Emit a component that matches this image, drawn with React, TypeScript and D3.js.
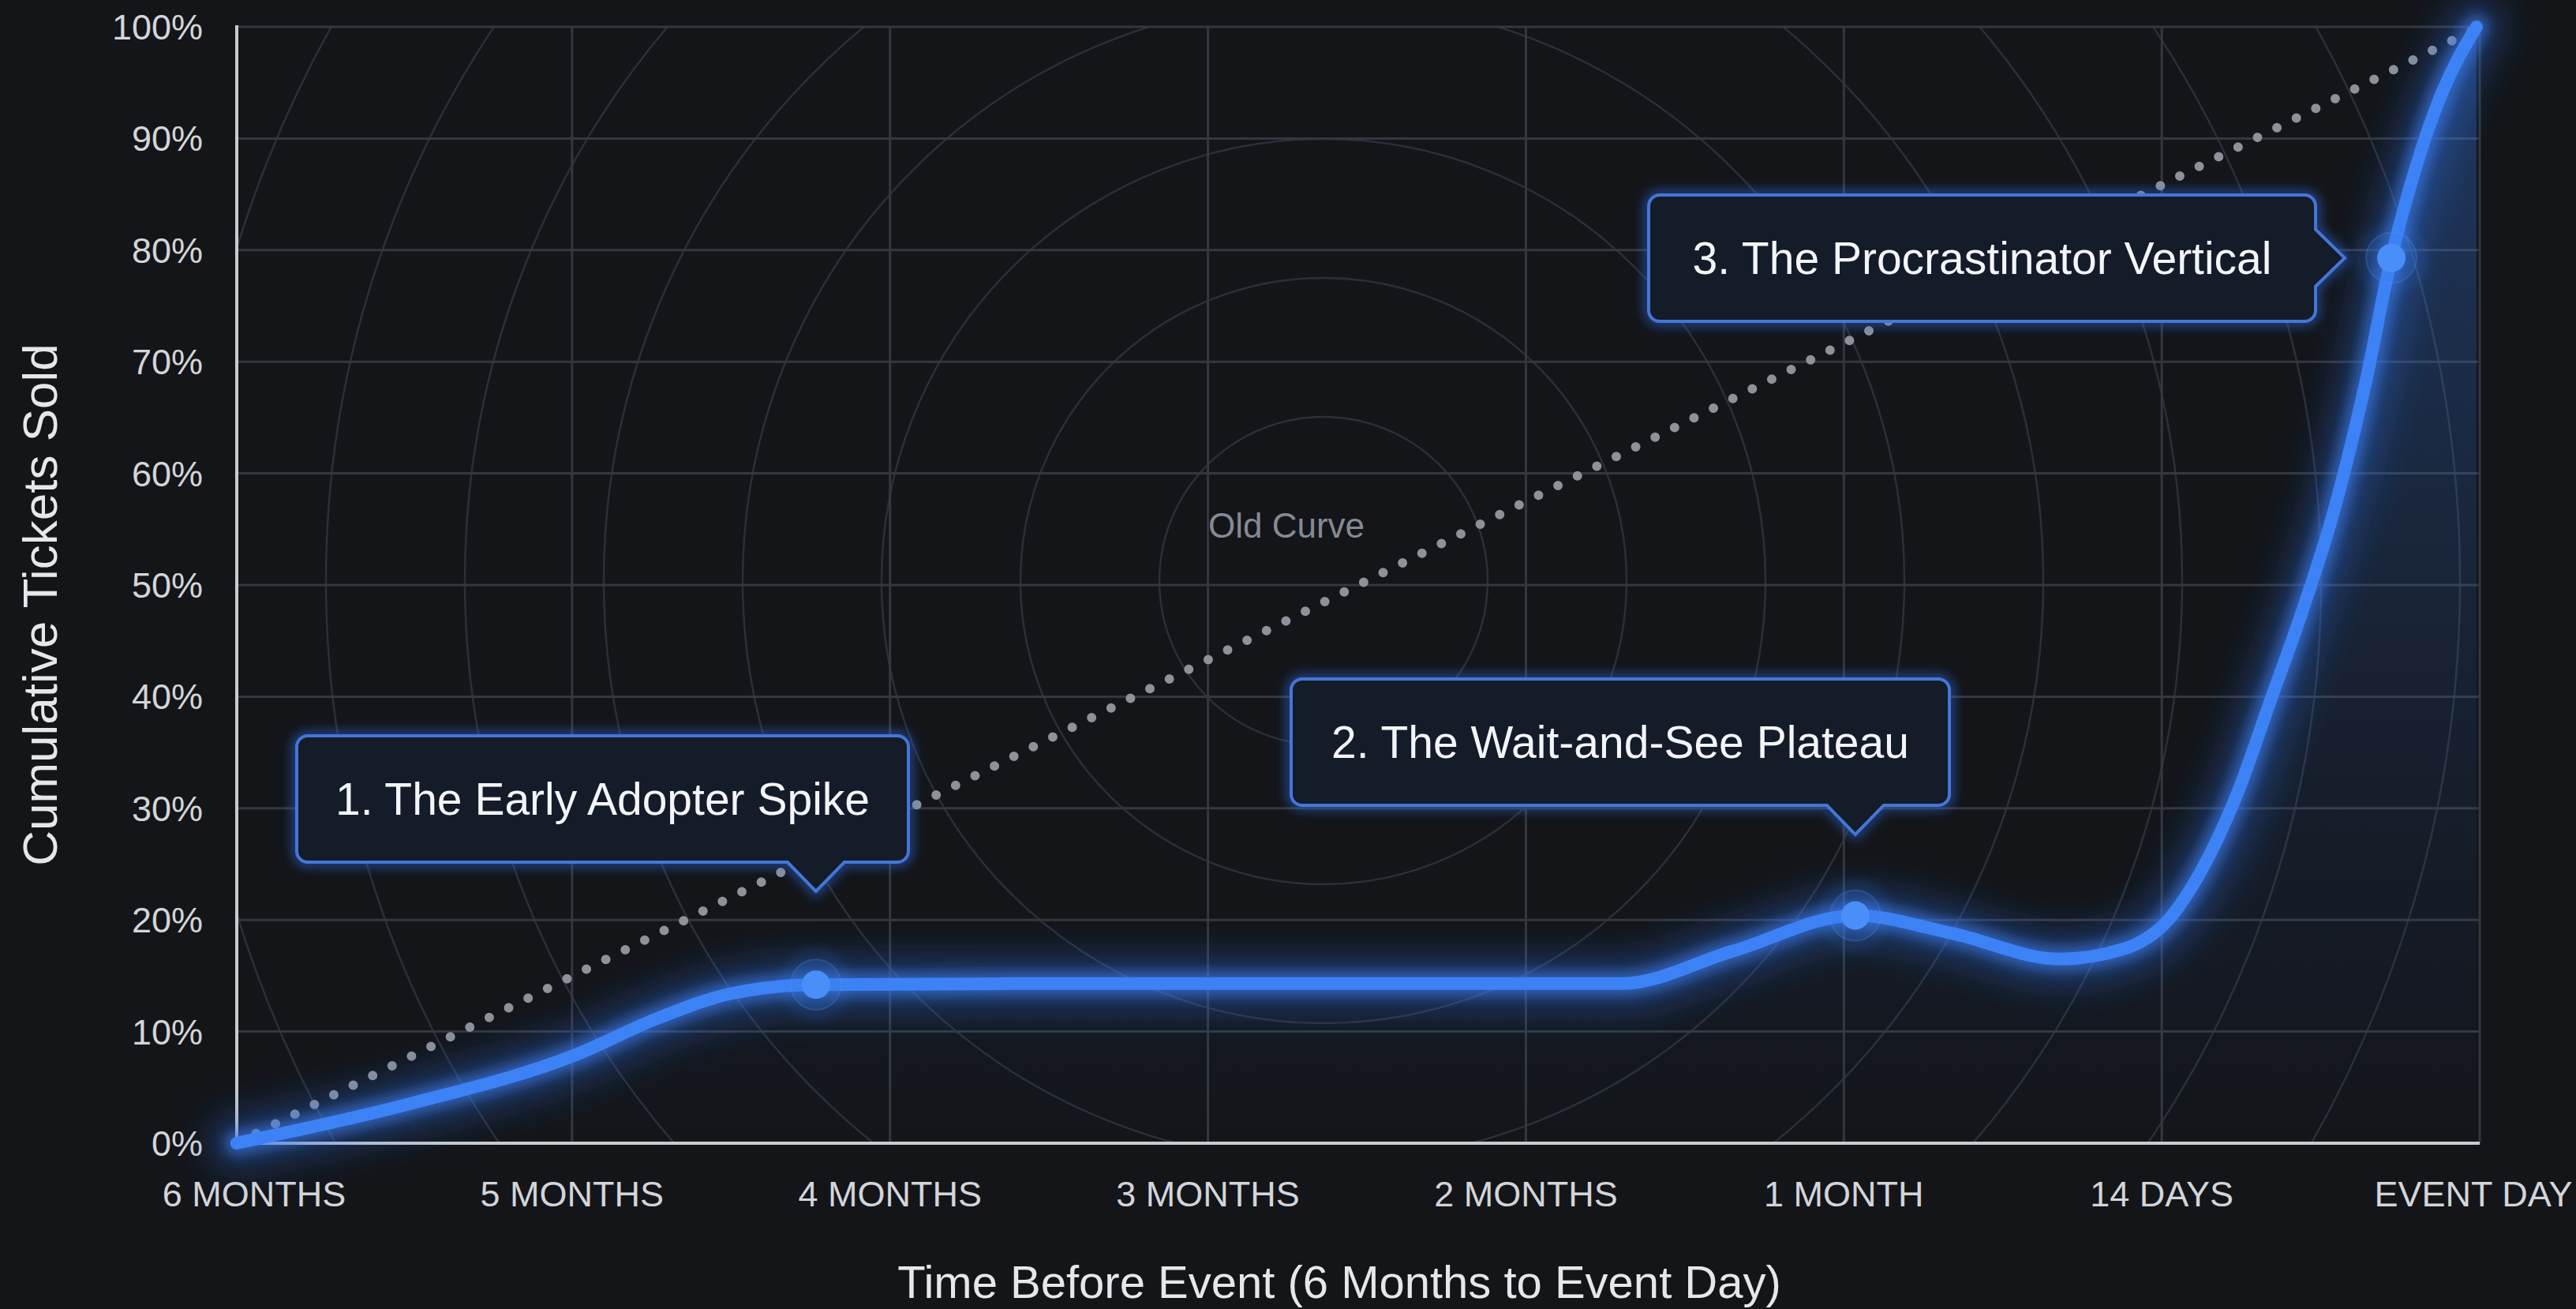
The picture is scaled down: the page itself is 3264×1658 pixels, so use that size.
import React from 'react';
import * as d3 from 'd3';

const W = 3264;
const H = 1658;

// ---- data ----
const xTickLabels = ['6 MONTHS', '5 MONTHS', '4 MONTHS', '3 MONTHS', '2 MONTHS', '1 MONTH', '14 DAYS', 'EVENT DAY'];
const yTickValues = [0, 10, 20, 30, 40, 50, 60, 70, 80, 90, 100];

// position along the timeline (0 = 6 months ... 7 = event day) and cumulative % sold
const curveT = [-0.055, 0.5, 1.01, 1.27, 1.5, 1.767, 2.5, 3.5, 4.3, 4.65, 5.036, 5.34, 5.68, 5.88, 6.02, 6.12, 6.24, 6.34, 6.44, 6.54, 6.64, 6.722, 6.80, 6.88, 6.99];
const curvePct = [0, 3.6, 7.9, 11.2, 13.4, 14.2, 14.3, 14.3, 14.3, 17.2, 20.4, 18.8, 16.5, 17.4, 20.0, 24.2, 31.5, 39.5, 47.5, 56.5, 68.0, 79.3, 87.5, 94.0, 100];

const oldCurveT = [-0.055, 7];
const oldCurvePct = [0, 100];
const oldCurveLabel = 'Old Curve';

const annotationLabels = ['1. The Early Adopter Spike', '2. The Wait-and-See Plateau', '3. The Procrastinator Vertical'];
const annotationT = [1.767, 5.036, 6.722];
const annotationPct = [14.2, 20.4, 79.3];

const xTitle = 'Time Before Event (6 Months to Event Day)';
const yTitle = 'Cumulative Tickets Sold';

// ---- layout ----
const PL = 300, PR = 3142, PT = 34, PB = 1448;
const FONT = '"Liberation Sans", Arial, Helvetica, sans-serif';
const BG = '#131519';
const BLUE = '#3d82f5';

// annotation box layout [x0, y0, x1, y1, pointer side]
const boxLayout: [number, number, number, number, 'bottom' | 'right'][] = [
  [376, 932, 1151, 1092, 'bottom'],
  [1636, 860, 2470, 1020, 'bottom'],
  [2089, 247, 2934, 407, 'right'],
];

function boxPath(x0: number, y0: number, x1: number, y1: number, side: string, p: number) {
  const r = 14;
  const half = 36;
  const len = 37;
  if (side === 'bottom') {
    return `M${x0 + r},${y0} H${x1 - r} A${r},${r} 0 0 1 ${x1},${y0 + r} V${y1 - r} A${r},${r} 0 0 1 ${x1 - r},${y1} H${p + half} L${p},${y1 + len} L${p - half},${y1} H${x0 + r} A${r},${r} 0 0 1 ${x0},${y1 - r} V${y0 + r} A${r},${r} 0 0 1 ${x0 + r},${y0} Z`;
  }
  return `M${x0 + r},${y0} H${x1 - r} A${r},${r} 0 0 1 ${x1},${y0 + r} V${p - half} L${x1 + len},${p} L${x1},${p + half} V${y1 - r} A${r},${r} 0 0 1 ${x1 - r},${y1} H${x0 + r} A${r},${r} 0 0 1 ${x0},${y1 - r} V${y0 + r} A${r},${r} 0 0 1 ${x0 + r},${y0} Z`;
}

export default function App() {
  const x = d3.scaleLinear().domain([0, 7]).range([322, PR]);
  const y = d3.scaleLinear().domain([0, 100]).range([PB, PT]);

  const pts: [number, number][] = curveT.map((t, i) => [t, curvePct[i]]);
  const curve = d3.curveMonotoneX;
  const line = d3.line<[number, number]>().x(d => x(d[0])).y(d => y(d[1])).curve(curve);
  const area = d3.area<[number, number]>().x(d => x(d[0])).y0(y(0)).y1(d => y(d[1])).curve(curve);
  const curveD = line(pts) || '';
  const areaD = area(pts) || '';
  const oldD = d3.line<[number, number]>().x(d => x(d[0])).y(d => y(d[1]))(oldCurveT.map((t, i) => [t, oldCurvePct[i]])) || '';

  const circleCenter = [1677, 736];
  const circleRadii = d3.range(8).map(i => 208 + i * 176);

  return (
    <svg width={W} height={H} style={{ position: 'absolute', left: 0, top: 0, display: 'block' }} fontFamily={FONT}>
      <defs>
        <clipPath id="plotClip">
          <rect x={PL} y={PT} width={PR - PL} height={PB - PT} />
        </clipPath>
        <linearGradient id="areaGrad" gradientUnits="userSpaceOnUse" x1="0" y1={PT} x2="0" y2={PB}>
          <stop offset="0" stopColor="#3b82f6" stopOpacity={0.32} />
          <stop offset="0.55" stopColor="#3b82f6" stopOpacity={0.12} />
          <stop offset="1" stopColor="#3b82f6" stopOpacity={0.0} />
        </linearGradient>
        <filter id="glowBig" x="-20%" y="-20%" width="140%" height="140%">
          <feGaussianBlur stdDeviation="22" />
        </filter>
        <filter id="glowSmall" x="-20%" y="-20%" width="140%" height="140%">
          <feGaussianBlur stdDeviation="8" />
        </filter>
        <filter id="boxGlow" x="-10%" y="-30%" width="120%" height="160%">
          <feGaussianBlur stdDeviation="7" />
        </filter>
        <filter id="haloBlur" x="-50%" y="-50%" width="200%" height="200%">
          <feGaussianBlur stdDeviation="6" />
        </filter>
      </defs>

      <rect x={0} y={0} width={W} height={H} fill={BG} />

      {/* concentric background circles */}
      <g clipPath="url(#plotClip)">
        {circleRadii.map((r, i) => (
          <circle key={i} cx={circleCenter[0]} cy={circleCenter[1]} r={r} fill="none" stroke="#2a2f39" strokeWidth={2.5} />
        ))}
      </g>

      {/* grid */}
      <g>
        {yTickValues.filter(v => v > 0).map(v => (
          <line key={v} x1={PL} x2={PR} y1={y(v)} y2={y(v)} stroke="#34373e" strokeWidth={3} />
        ))}
        {xTickLabels.map((_, i) => i > 0 && (
          <line key={i} x1={x(i)} x2={x(i)} y1={PT} y2={PB} stroke="#34373e" strokeWidth={3} />
        ))}
      </g>

      {/* area under curve */}
      <path d={areaD} fill="url(#areaGrad)" clipPath="url(#plotClip)" />

      {/* old curve */}
      <path d={oldD} fill="none" stroke="#8d9199" strokeWidth={12} strokeLinecap="round" strokeDasharray="0 27.5" />
      <text x={1630} y={665} textAnchor="middle" dominantBaseline="central" fontSize={44} fill="#858a93">{oldCurveLabel}</text>

      {/* axes */}
      <line x1={PL} x2={PL} y1={PT - 2} y2={PB + 2} stroke="#c9cbcf" strokeWidth={4} />
      <line x1={PL - 2} x2={PR} y1={PB} y2={PB} stroke="#c9cbcf" strokeWidth={4} />

      {/* y tick labels */}
      {yTickValues.map(v => (
        <text key={v} x={257} y={y(v) + 16} textAnchor="end" fontSize={45} fill="#d3d5d9">{`${v}%`}</text>
      ))}
      {/* x tick labels */}
      {xTickLabels.map((lab, i) => (
        <text key={lab} x={i === 7 ? x(i) - 8 : x(i)} y={1528} textAnchor="middle" fontSize={45} fill="#d3d5d9">{lab}</text>
      ))}

      {/* axis titles */}
      <text x={1697} y={1644} textAnchor="middle" fontSize={58} fill="#e6e7ea">{xTitle}</text>
      <text transform="translate(50,766) rotate(-90)" textAnchor="middle" dominantBaseline="central" fontSize={62} fill="#e6e7ea">{yTitle}</text>

      {/* main curve with glow */}
      <path d={curveD} fill="none" stroke="#2d6fe8" strokeWidth={70} strokeOpacity={0.35} filter="url(#glowBig)" strokeLinecap="round" />
      <path d={curveD} fill="none" stroke="#3a7ff2" strokeWidth={30} strokeOpacity={0.6} filter="url(#glowSmall)" strokeLinecap="round" />
      <path d={curveD} fill="none" stroke={BLUE} strokeWidth={16} strokeLinecap="round" />

      {/* markers */}
      {annotationT.map((t, i) => (
        <g key={i} transform={`translate(${x(t)},${y(annotationPct[i])})`}>
          <circle r={46} fill="#3b82f6" fillOpacity={0.12} filter="url(#haloBlur)" />
          <circle r={32} fill="#3b82f6" fillOpacity={0.18} stroke="#5b8ff0" strokeOpacity={0.25} strokeWidth={2} />
          <circle r={18} fill="#4a8ff9" />
        </g>
      ))}

      {/* annotation boxes */}
      {annotationLabels.map((lab, i) => {
        const [x0, y0, x1, y1, side] = boxLayout[i];
        const p = side === 'bottom' ? x(annotationT[i]) : y(annotationPct[i]);
        const d = boxPath(x0, y0, x1, y1, side, p);
        return (
          <g key={lab}>
            <path d={d} fill="none" stroke="#2f6ff0" strokeWidth={12} strokeOpacity={0.55} filter="url(#boxGlow)" />
            <path d={d} fill="#141b29" stroke="#4576d6" strokeWidth={4} />
            <text x={(x0 + x1) / 2} y={(y0 + y1) / 2 + 20} textAnchor="middle" fontSize={57} fill="#f3f5f8">{lab}</text>
          </g>
        );
      })}
    </svg>
  );
}
